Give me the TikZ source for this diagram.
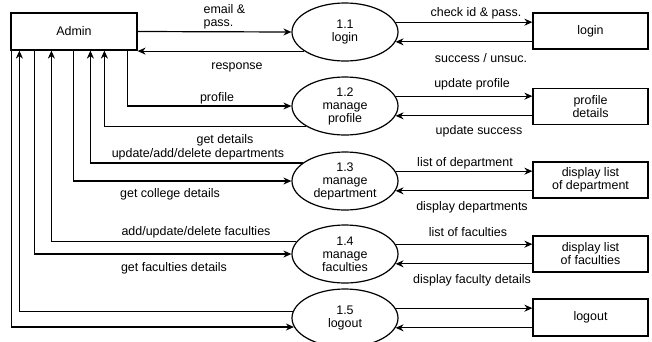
\documentclass[tikz,border=0pt]{standalone}
\usepackage{fontspec}
\setmainfont{Liberation Sans}
\usetikzlibrary{shapes.geometric,arrows.meta}
\tikzset{
  process/.style={draw, ellipse, minimum width=106bp, minimum height=58bp, inner sep=1bp, align=center},
  store/.style={draw, rectangle, minimum width=115bp, minimum height=36bp, align=center},
  flow/.style={-{Stealth[length=8bp,width=7bp]}},
  lbl/.style={inner sep=0pt, align=center}
}
\begin{document}
\begin{tikzpicture}[x=1bp, y=-1bp, line width=1.2bp, font=\fontsize{12.5}{13}\selectfont]
\useasboundingbox (0,0) rectangle (652,341);

% Admin entity
\node[store, minimum width=126bp, minimum height=37bp] (admin) at (74,31.5) {Admin};

% Processes
\node[process] (login) at (345,32) {1.1\\login};
\node[process] (profile) at (345,106) {1.2\\manage\\profile};
\node[process] (dept) at (345,181) {1.3\\manage\\department};
\node[process] (fac) at (345,254) {1.4\\manage\\faculties};
\node[process] (logout) at (345,318) {1.5\\logout};

% Data stores
\node[store] (loginstore) at (590.5,31) {login};
\node[store] (profilestore) at (590.5,106.5) {profile\\details};
\node[store] (deptstore) at (590.5,180) {display list\\of department};
\node[store] (facstore) at (590.5,254) {display list\\of faculties};
\node[store, minimum height=37bp] (logoutstore) at (590.5,317.5) {logout};

% Admin <-> processes
\draw[flow] (admin.east) -- (login.west);
\draw[flow] (login.205) -- (login.205 -| admin.east);
\draw[flow] ([xshift=117bp]admin.south west) |- (profile.west);
\draw[flow] (profile.208) -| ([xshift=94bp]admin.south west);
\draw[flow] (dept.157) -| ([xshift=80bp]admin.south west);
\draw[flow] ([xshift=63bp]admin.south west) |- (dept.west);
\draw[flow] (fac.166) -| ([xshift=41bp]admin.south west);
\draw[flow] ([xshift=24bp]admin.south west) |- (fac.west);
\draw[flow] (logout.173) -| ([xshift=9bp]admin.south west);
\draw[flow] ([xshift=1bp]admin.south west) |- (logout.190);

% Processes <-> data stores
\foreach \p/\s in {login/loginstore, profile/profilestore, dept/deptstore, fac/facstore, logout/logoutstore}{
  \draw[flow] (\p.11) -- (\p.11 -| \s.west);
  \draw[flow] (\s.west |- \p.-11) -- (\p.-11);
}

% Labels
\node[lbl, anchor=west, align=left] (l1) at (203,17) {email \&\\pass.};
\node[lbl] (l2) at (237,67) {response};
\node[lbl] (l3) at (217,98) {profile};
\node[lbl] (l4) at (225,140) {get details};
\node[lbl] (l5) at (198,154) {update/add/delete departments};
\node[lbl] (l6) at (170,194) {get college details};
\node[lbl] (l7) at (196,232) {add/update/delete faculties};
\node[lbl] (l8) at (174,268) {get faculties details};
\node[lbl] (r1) at (476,13) {check id \& pass.};
\node[lbl] (r2) at (481,58) {success / unsuc.};
\node[lbl] (r3) at (472,84) {update profile};
\node[lbl] (r4) at (479,131) {update success};
\node[lbl] (r5) at (465,163) {list of department};
\node[lbl] (r6) at (472,207) {display departments};
\node[lbl] (r7) at (468,232) {list of faculties};
\node[lbl] (r8) at (472,280) {display faculty details};
\end{tikzpicture}
\end{document}
